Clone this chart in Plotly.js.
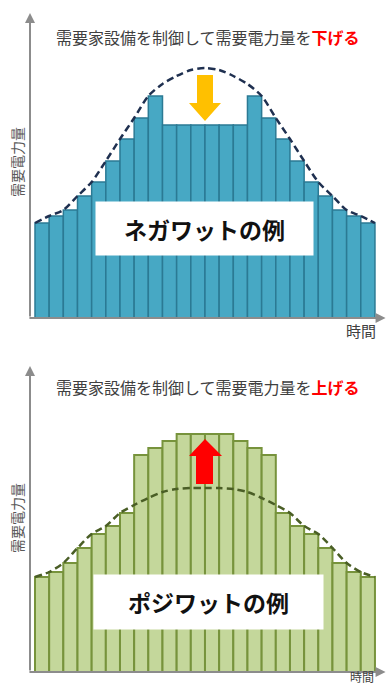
<!DOCTYPE html>
<html>
<head>
<meta charset="utf-8">
<script src="https://cdn.plot.ly/plotly-3.0.1.min.js"></script>
<style>html,body{margin:0;padding:0;background:#fff;}#chart{width:387px;height:686px;}</style>
</head>
<body>
<div id="chart"></div>
<script>
// ---- data ----
const slots = [1,2,3,4,5,6,7,8,9,10,11,12,13,14,15,16,17,18,19,20,21,22,23,24];
const curveX = [0.5,1.5,2.5,3.5,4.5,5.5,6.5,7.5,8.5,9.5,10.5,11.5,12.5,13.5,14.5,15.5,16.5,17.5,18.5,19.5,20.5,21.5,22.5,23.5,24.5];

// Negawatt: demand after control (bars) and original demand (dashed)
const negaBars  = [95,102,108,122,136,157,179,200,222,193,193,193,193,193,193,222,200,179,157,136,122,108,102,95];
const negaCurve = [95,102,108,122,136,157,179,200,222,234,242,248,250,248,242,234,222,200,179,157,136,122,108,102,95];

// Posiwatt: demand after control (bars) and original demand (dashed)
const posiBars  = [95,100,109,124,138,146,159,217,224,231,238,238,238,238,231,224,217,159,146,138,124,109,100,95];
const posiCurve = [95,100,109,124,138,146,159,167,174,180,183,184,184,184,183,180,174,167,159,146,138,124,109,100,95];

const titleTop = '需要家設備を制御して需要電力量を';
const titleTopRed = '下げる';
const titleBot = '需要家設備を制御して需要電力量を';
const titleBotRed = '上げる';
const yLabel = '需要電力量';
const xLabel = '時間';
const boxTop = 'ネガワットの例';
const boxBot = 'ポジワットの例';

// ---- layout helpers ----
const W = 387, H = 686;
const px = x => x / W;
const py = y => 1 - y / H;
const FONT = '"Noto Sans CJK JP", "Noto Sans", sans-serif';
const AX = '#8c8c8c';

const traces = [
  {type:'bar', x:slots, y:negaBars, xaxis:'x', yaxis:'y',
   marker:{color:'#47A8C4', line:{color:'#2B7A94', width:1.5}}, hoverinfo:'skip', showlegend:false},
  {type:'scatter', mode:'lines', x:curveX, y:negaCurve, xaxis:'x', yaxis:'y',
   line:{color:'#1F3050', width:2.5, dash:'7px,4px', shape:'spline', smoothing:0.8}, hoverinfo:'skip', showlegend:false},
  {type:'bar', x:slots, y:posiBars, xaxis:'x2', yaxis:'y2',
   marker:{color:'#C4D79B', line:{color:'#77933C', width:2}}, hoverinfo:'skip', showlegend:false},
  {type:'scatter', mode:'lines', x:curveX, y:posiCurve, xaxis:'x2', yaxis:'y2',
   line:{color:'#4A5E26', width:2.5, dash:'7px,4px', shape:'spline', smoothing:0.8}, hoverinfo:'skip', showlegend:false}
];

const hidden = {showgrid:false, zeroline:false, showline:false, showticklabels:false, ticks:'', fixedrange:true};
const xr = [0.147, 25.35];

function axisArrows(xa, ya, ytop) {
  return [
    {xref:xa, yref:ya, axref:xa, ayref:ya, x:25.25, y:0, ax:0.0, ay:0, text:'', showarrow:true,
     arrowhead:2, arrowsize:1, arrowwidth:2, arrowcolor:AX, standoff:0},
    {xref:xa, yref:ya, axref:xa, ayref:ya, x:0.147, y:ytop, ax:0.147, ay:0, text:'', showarrow:true,
     arrowhead:2, arrowsize:1, arrowwidth:2, arrowcolor:AX, standoff:0}
  ];
}

function poly(pts) {
  return 'M ' + pts.map(p => px(p[0]) + ',' + py(p[1])).join(' L ') + ' Z';
}

function label(x, y, text, font, extra) {
  return Object.assign({xref:'paper', yref:'paper', x:px(x), y:py(y), xanchor:'center', yanchor:'middle',
    showarrow:false, text:text, font:font}, extra || {});
}

const annotations = [
  ...axisArrows('x','y',305),
  ...axisArrows('x2','y2',306),
  label(208, 37, titleTop + '<b><span style="color:#FF0000">' + titleTopRed + '</span></b>',
        {family:FONT, size:16, color:'#404040'}),
  label(208, 387, titleBot + '<b><span style="color:#FF0000">' + titleBotRed + '</span></b>',
        {family:FONT, size:16, color:'#404040'}),
  label(17, 162, yLabel, {family:FONT, size:14, color:'#595959'}, {textangle:-90}),
  label(17, 518, yLabel, {family:FONT, size:14, color:'#595959'}, {textangle:-90}),
  label(361, 330, xLabel, {family:FONT, size:15, color:'#404040'}),
  label(362, 676, xLabel, {family:FONT, size:12, color:'#404040'}, {borderpad:0}),
  label(204.5, 228, '<b>'+boxTop+'</b>', {family:FONT, size:23, color:'#111111'},
        {bgcolor:'#FFFFFF', width:215, height:51}),
  label(208.5, 602, '<b>'+boxBot+'</b>', {family:FONT, size:23, color:'#111111'},
        {bgcolor:'#FFFFFF', width:227, height:52})
];

const shapes = [
  {type:'path', xref:'paper', yref:'paper', layer:'above', line:{width:0}, fillcolor:'#FFC000',
   path: poly([[197,75],[213,75],[213,103],[221,103],[205,121],[189,103],[197,103]])},
  {type:'path', xref:'paper', yref:'paper', layer:'above', line:{width:0}, fillcolor:'#FF0000',
   path: poly([[196,484],[213,484],[213,456],[222,456],[205,439],[189,456],[196,456]])}
];

const layout = {
  width:W, height:H, margin:{l:0,r:0,t:0,b:0}, paper_bgcolor:'#FFFFFF', plot_bgcolor:'rgba(0,0,0,0)',
  bargap:0, showlegend:false,
  xaxis: Object.assign({domain:[30/W,1], range:xr, anchor:'y'}, hidden),
  yaxis: Object.assign({domain:[py(318), py(12)], range:[0,306], anchor:'x'}, hidden),
  xaxis2: Object.assign({domain:[30/W,1], range:xr, anchor:'y2'}, hidden),
  yaxis2: Object.assign({domain:[py(672), py(365)], range:[0,307], anchor:'x2'}, hidden),
  annotations: annotations,
  shapes: shapes
};

Plotly.newPlot('chart', traces, layout, {displayModeBar:false, staticPlot:true});
</script>
</body>
</html>
